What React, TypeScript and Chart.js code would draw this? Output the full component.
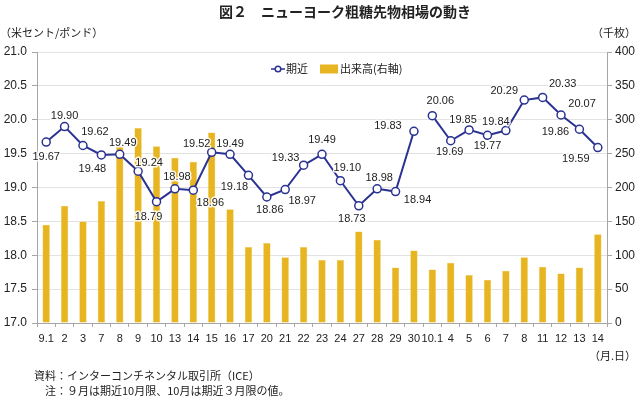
import React, { useEffect, useRef } from "react";
import { Chart, registerables } from "chart.js";

Chart.register(...registerables);

const CATEGORIES = ["9.1", "2", "3", "7", "8", "9", "10", "13", "14", "15", "16", "17", "20", "21", "22", "23", "24", "27", "28", "29", "30", "10.1", "4", "5", "6", "7", "8", "11", "12", "13", "14"];
const NEAREST = [19.67, 19.9, 19.62, 19.48, 19.49, 19.24, 18.79, 18.98, 18.96, 19.52, 19.49, 19.18, 18.86, 18.97, 19.33, 19.49, 19.1, 18.73, 18.98, 18.94, 19.83, 20.06, 19.69, 19.85, 19.77, 19.84, 20.29, 20.33, 20.07, 19.86, 19.59];
const VOLUME = [145, 173, 150, 180, 260, 288, 261, 244, 238, 281, 168, 112, 118, 97, 112, 93, 93, 135, 123, 82, 107, 79, 89, 71, 64, 77, 97, 83, 73, 82, 131];
const BREAK_AFTER = 20; // contract switch between 9.30 and 10.1

const LEFT_MIN = 17;
const LEFT_MAX = 21;
const LEFT_STEP = 0.5;
const RIGHT_MIN = 0;
const RIGHT_MAX = 400;
const RIGHT_STEP = 50;

const TITLE = "図２　ニューヨーク粗糖先物相場の動き";
const LEFT_UNIT = "（米セント/ポンド）";
const RIGHT_UNIT = "（千枚）";
const X_UNIT = "（月.日）";
const LEGEND_LINE = "期近";
const LEGEND_BAR = "出来高(右軸)";
const NOTE_1 = "資料：インターコンチネンタル取引所（ICE）";
const NOTE_2 = "注：９月は期近10月限、10月は期近３月限の値。";

// label placement offsets (style only): [dx, dy] relative to point
const LABEL_OFFSETS: [number, number][] = [
  [0, 15], [0, -11], [12, -14], [-9, 14], [3, -11], [11, -8], [-8, 15], [2, -12], [17, 13], [-15, -8],
  [0, -10], [-14, 12], [3, 13], [17, 11], [-18, -7], [0, -14], [7, -13], [-7, 13], [2, -11], [22, 8],
  [-26, -5], [8, -15], [-1, 11], [-6, -10], [0, 11], [-10, -9], [-20, -9], [20, -13], [21, -11], [-24, 3],
  [-22, 11],
];

const NAVY = "#2b3392";
const GOLD = "#e8b522";
const AXIS = "#a6a6a6";
const GRID = "#e2e2e2";
const TEXT = "#222222";
const FONT_LATIN = '"Liberation Sans", Arial, "Noto Sans CJK JP", sans-serif';
const FONT_JP = '"Noto Sans CJK JP", "Liberation Sans", sans-serif';

const overlayPlugin = {
  id: "overlay",
  afterDatasetsDraw(chart: any) {
    const ctx = chart.ctx as CanvasRenderingContext2D;
    const meta = chart.getDatasetMeta(0);
    ctx.save();
    ctx.font = `11px ${FONT_LATIN}`;
    ctx.textAlign = "center";
    ctx.textBaseline = "middle";
    meta.data.forEach((pt: any, i: number) => {
      const [dx, dy] = LABEL_OFFSETS[i] || [0, -12];
      const txt = NEAREST[i].toFixed(2);
      const x = pt.x + dx;
      const y = pt.y + dy;
      ctx.lineJoin = "round";
      ctx.strokeStyle = "rgba(255,255,255,0.9)";
      ctx.lineWidth = 3;
      ctx.strokeText(txt, x, y);
      ctx.fillStyle = TEXT;
      ctx.fillText(txt, x, y);
    });
    ctx.restore();
  },
  afterDraw(chart: any) {
    const ctx = chart.ctx as CanvasRenderingContext2D;
    ctx.save();
    ctx.fillStyle = TEXT;
    ctx.textBaseline = "middle";
    // title
    ctx.font = `bold 14px ${FONT_JP}`;
    ctx.textAlign = "center";
    ctx.fillText(TITLE, 345, 12);
    // units
    ctx.font = `11px ${FONT_JP}`;
    ctx.textAlign = "left";
    ctx.fillText(LEFT_UNIT, 0, 33);
    ctx.textAlign = "right";
    ctx.fillText(RIGHT_UNIT, 636, 33);
    ctx.fillText(X_UNIT, 636, 356);
    // notes
    ctx.textAlign = "left";
    ctx.fillText(NOTE_1, 34, 376);
    ctx.fillText(NOTE_2, 45, 391);
    // legend
    const ly = 69;
    ctx.strokeStyle = NAVY;
    ctx.lineWidth = 1.5;
    ctx.beginPath();
    ctx.moveTo(271, ly);
    ctx.lineTo(285, ly);
    ctx.stroke();
    ctx.beginPath();
    ctx.arc(278, ly, 2.8, 0, Math.PI * 2);
    ctx.fillStyle = "#fff";
    ctx.fill();
    ctx.stroke();
    ctx.fillStyle = TEXT;
    ctx.font = `11px ${FONT_JP}`;
    ctx.fillText(LEGEND_LINE, 286, ly);
    ctx.fillStyle = GOLD;
    ctx.fillRect(320, ly - 4.5, 18, 9);
    ctx.fillStyle = TEXT;
    ctx.fillText(LEGEND_BAR, 340, ly);
    ctx.restore();
  },
};

export default function App() {
  const ref = useRef<HTMLCanvasElement | null>(null);
  useEffect(() => {
    if (!ref.current) return;
    const chart = new Chart(ref.current, {
      type: "bar",
      data: {
        labels: CATEGORIES,
        datasets: [
          {
            type: "line",
            label: LEGEND_LINE,
            data: NEAREST,
            yAxisID: "y",
            borderColor: NAVY,
            borderWidth: 2,
            pointRadius: 4,
            pointBackgroundColor: "#ffffff",
            pointBorderColor: NAVY,
            pointBorderWidth: 1.5,
            tension: 0,
            order: 0,
            segment: {
              borderColor: (c: any) => (c.p0DataIndex === BREAK_AFTER ? "rgba(0,0,0,0)" : undefined),
            },
          } as any,
          {
            type: "bar",
            label: LEGEND_BAR,
            data: VOLUME,
            yAxisID: "y1",
            backgroundColor: GOLD,
            borderColor: "#f2cc5a",
            borderWidth: 0.5,
            barPercentage: 0.4,
            categoryPercentage: 1,
            order: 1,
          },
        ],
      },
      options: {
        responsive: false,
        animation: false,
        layout: { padding: { top: 52, bottom: 45, left: 0, right: 0 } },
        plugins: { legend: { display: false }, title: { display: false }, tooltip: { enabled: false } },
        scales: {
          x: {
            offset: true,
            grid: { offset: true, drawOnChartArea: false, tickLength: 4, color: AXIS },
            border: { color: AXIS },
            ticks: { autoSkip: false, maxRotation: 0, padding: 5, color: TEXT, font: { size: 11, family: FONT_LATIN } },
            afterFit: (s: any) => { s.height = 30; },
          },
          y: {
            position: "left",
            min: LEFT_MIN,
            max: LEFT_MAX,
            ticks: {
              stepSize: LEFT_STEP,
              padding: 5,
              color: TEXT,
              font: { size: 12, family: FONT_LATIN },
              callback: (v: any) => Number(v).toFixed(1),
            },
            grid: { color: GRID, tickColor: AXIS, tickLength: 5 },
            border: { color: AXIS },
            afterFit: (s: any) => { s.width = 37; },
          },
          y1: {
            position: "right",
            min: RIGHT_MIN,
            max: RIGHT_MAX,
            ticks: { stepSize: RIGHT_STEP, padding: 3, color: TEXT, font: { size: 12, family: FONT_LATIN } },
            grid: { drawOnChartArea: false, tickColor: AXIS, tickLength: 5 },
            border: { color: AXIS },
            afterFit: (s: any) => { s.width = 33; },
          },
        },
      },
      plugins: [overlayPlugin],
    });
    return () => chart.destroy();
  }, []);
  return (
    <div style={{ position: "fixed", left: 0, top: 0, width: 640, height: 398, background: "#fff" }}>
      <canvas ref={ref} width={640} height={398} style={{ display: "block" }} />
    </div>
  );
}
